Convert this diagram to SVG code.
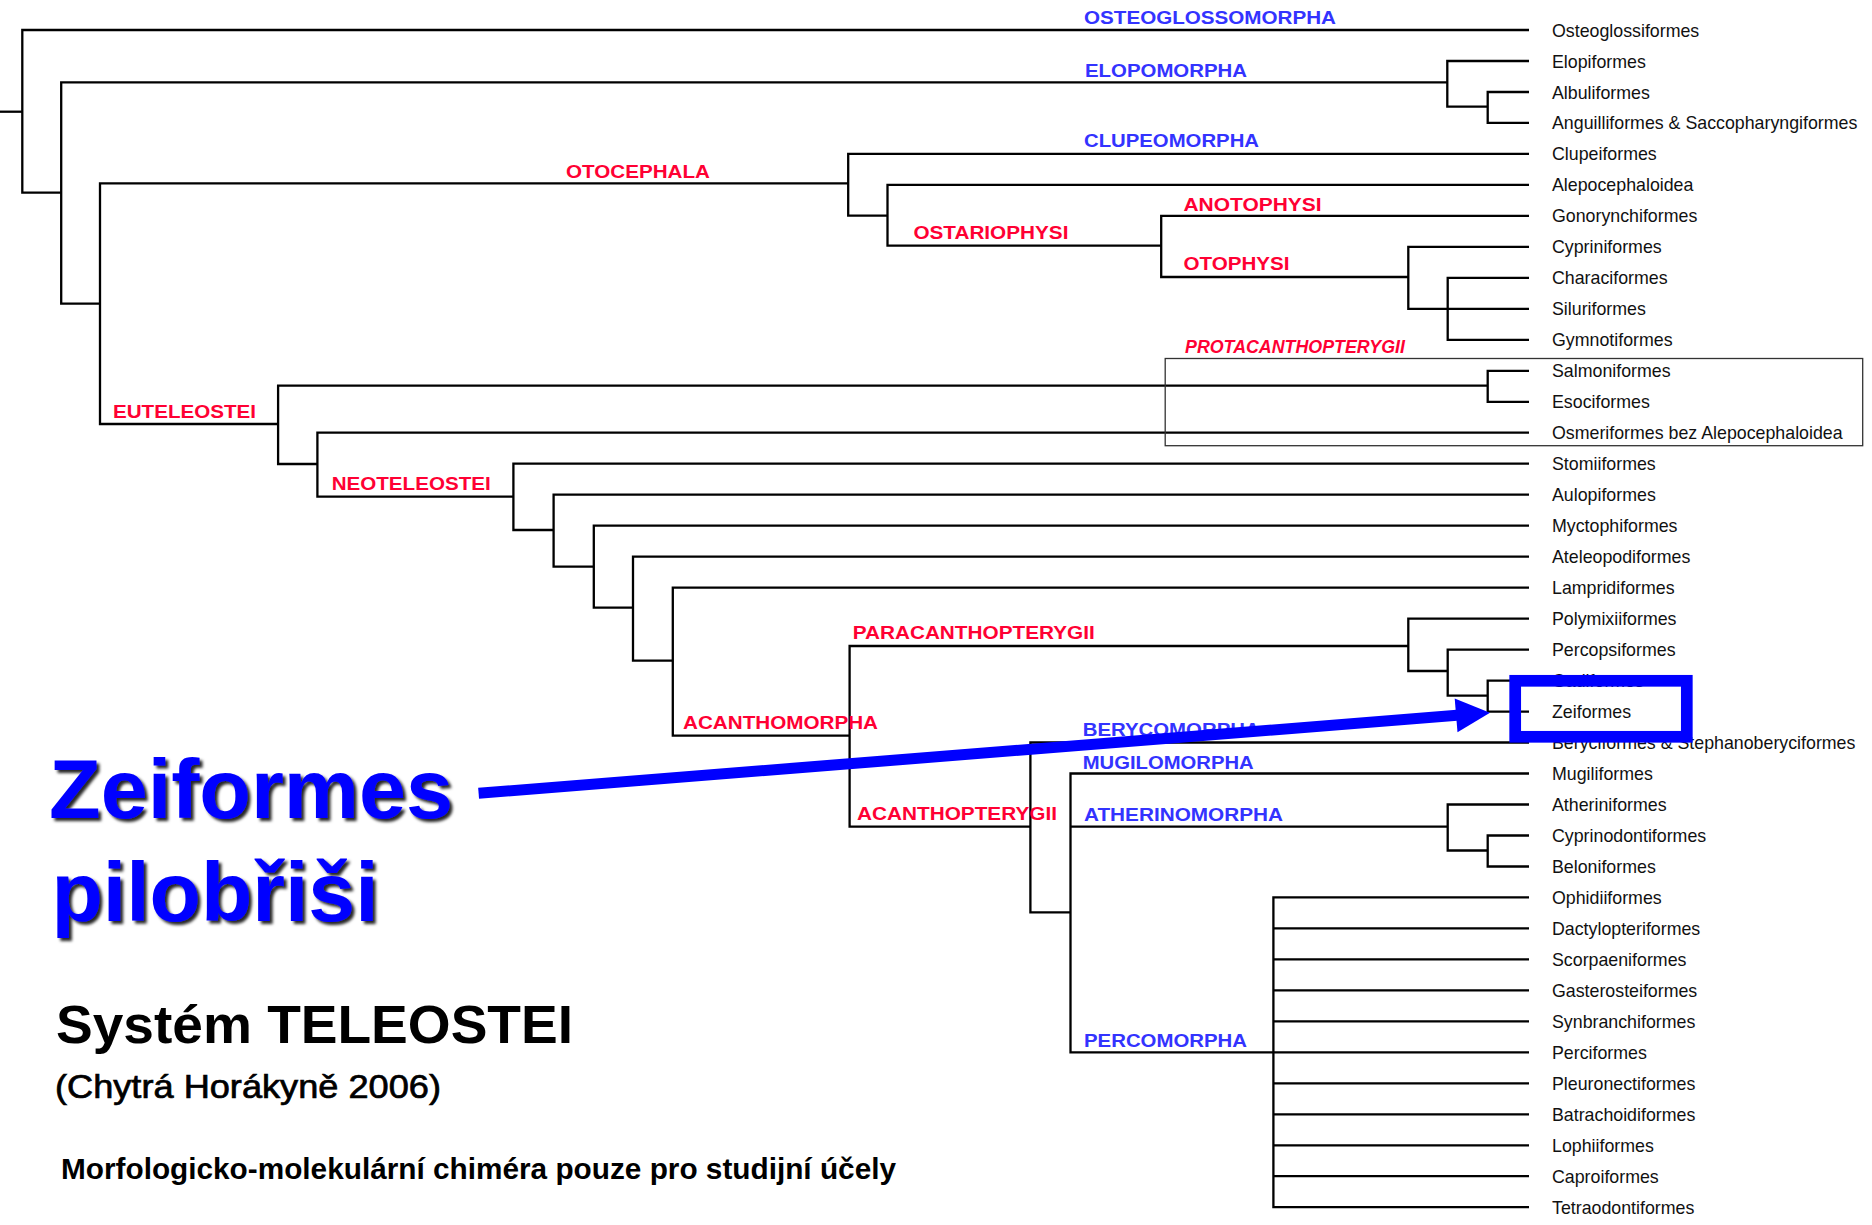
<svg xmlns="http://www.w3.org/2000/svg" width="1872" height="1225" viewBox="0 0 1872 1225">
<defs>
<style>
.ln{fill:none;stroke:#000;stroke-width:2.3;stroke-linejoin:miter;stroke-linecap:butt}
.leaf{font-family:"Liberation Sans",Arial,sans-serif;font-size:17.8px;fill:#111}
.red{font-family:"Liberation Sans",Arial,sans-serif;font-size:19px;font-weight:bold;fill:#ff0033}
.blue{font-family:"Liberation Sans",Arial,sans-serif;font-size:19px;font-weight:bold;fill:#3333ff}
.big{font-family:"Liberation Sans",Arial,sans-serif;font-size:84px;font-weight:bold;fill:#0000ff}
.ttl{font-family:"Liberation Sans",Arial,sans-serif;fill:#000}
</style>
<filter id="sh" x="-5%" y="-10%" width="115%" height="130%">
<feDropShadow dx="3" dy="3" stdDeviation="1.4" flood-color="#000" flood-opacity="0.85"/>
</filter>
</defs>
<rect x="0" y="0" width="1872" height="1225" fill="#fff"/>
<g id="connectors">
<path class="ln" d="M0,111.7 H22.3"/>
<path class="ln" d="M1529,30 H22.3 V192.7 H61.2"/>
<path class="ln" d="M1447.3,82.3 H61.2 V303.7 H100"/>
<path class="ln" d="M1529,61 H1447.3 V106.7 H1487.7"/>
<path class="ln" d="M1529,92 H1487.7 V122.9 H1529"/>
<path class="ln" d="M848.2,183.3 H100 V424 H278.1"/>
<path class="ln" d="M1529,153.9 H848.2 V215.7 H887.5"/>
<path class="ln" d="M1529,184.9 H887.5 V245.7 H1161.2"/>
<path class="ln" d="M1529,215.9 H1161.2 V277 H1408.3"/>
<path class="ln" d="M1529,246.9 H1408.3 V308.8 H1529"/>
<path class="ln" d="M1529,277.8 H1447.7 V339.8 H1529"/>
<path class="ln" d="M1487.7,385.7 H278.1 V464 H317.4"/>
<path class="ln" d="M1529,370.8 H1487.7 V401.8 H1529"/>
<path class="ln" d="M1529,432.7 H317.4 V496.7 H513.4"/>
<path class="ln" d="M1529,463.7 H513.4 V530 H553.6"/>
<path class="ln" d="M1529,494.7 H553.6 V566.7 H593.8"/>
<path class="ln" d="M1529,525.7 H593.8 V607.7 H633"/>
<path class="ln" d="M1529,556.6 H633 V660.7 H672.8"/>
<path class="ln" d="M1529,587.6 H672.8 V735.7 H849.6"/>
<path class="ln" d="M1408.3,646 H849.6 V826.7 H1030.4"/>
<path class="ln" d="M1529,618.6 H1408.3 V671 H1447.7"/>
<path class="ln" d="M1529,649.6 H1447.7 V695.7 H1487.7"/>
<path class="ln" d="M1529,680.6 H1487.7 V711.6 H1529"/>
<path class="ln" d="M1529,742.5 H1030.4 V912.3 H1070.5"/>
<path class="ln" d="M1529,773.5 H1070.5 V1052.3 H1529"/>
<path class="ln" d="M1070.5,826.7 H1447.7"/>
<path class="ln" d="M1529,804.5 H1447.7 V850.5 H1487.7"/>
<path class="ln" d="M1529,835.5 H1487.7 V866.5 H1529"/>
<path class="ln" d="M1529,897.4 H1273.4 V1207.2 H1529"/>
<path class="ln" d="M1273.4,928.4 H1529 M1273.4,959.4 H1529 M1273.4,990.4 H1529 M1273.4,1021.3 H1529 M1273.4,1083.3 H1529 M1273.4,1114.3 H1529 M1273.4,1145.3 H1529 M1273.4,1176.2 H1529"/>
</g>
<g id="protacanthopterygii-box">
<rect x="1165.2" y="358.5" width="697.5" height="87.2" fill="none" stroke="#333" stroke-width="1.3"/>
</g>
<g id="leaves">
<g id="leaf-osteoglossiformes"><text class="leaf" x="1552" y="36.5">Osteoglossiformes</text></g>
<g id="leaf-elopiformes"><text class="leaf" x="1552" y="67.5">Elopiformes</text></g>
<g id="leaf-albuliformes"><text class="leaf" x="1552" y="98.5">Albuliformes</text></g>
<g id="leaf-anguilliformes"><text class="leaf" x="1552" y="129.4">Anguilliformes &amp; Saccopharyngiformes</text></g>
<g id="leaf-clupeiformes"><text class="leaf" x="1552" y="160.4">Clupeiformes</text></g>
<g id="leaf-alepocephaloidea"><text class="leaf" x="1552" y="191.4">Alepocephaloidea</text></g>
<g id="leaf-gonorynchiformes"><text class="leaf" x="1552" y="222.4">Gonorynchiformes</text></g>
<g id="leaf-cypriniformes"><text class="leaf" x="1552" y="253.4">Cypriniformes</text></g>
<g id="leaf-characiformes"><text class="leaf" x="1552" y="284.3">Characiformes</text></g>
<g id="leaf-siluriformes"><text class="leaf" x="1552" y="315.3">Siluriformes</text></g>
<g id="leaf-gymnotiformes"><text class="leaf" x="1552" y="346.3">Gymnotiformes</text></g>
<g id="leaf-salmoniformes"><text class="leaf" x="1552" y="377.3">Salmoniformes</text></g>
<g id="leaf-esociformes"><text class="leaf" x="1552" y="408.3">Esociformes</text></g>
<g id="leaf-osmeriformes"><text class="leaf" x="1552" y="439.2">Osmeriformes bez Alepocephaloidea</text></g>
<g id="leaf-stomiiformes"><text class="leaf" x="1552" y="470.2">Stomiiformes</text></g>
<g id="leaf-aulopiformes"><text class="leaf" x="1552" y="501.2">Aulopiformes</text></g>
<g id="leaf-myctophiformes"><text class="leaf" x="1552" y="532.2">Myctophiformes</text></g>
<g id="leaf-ateleopodiformes"><text class="leaf" x="1552" y="563.1">Ateleopodiformes</text></g>
<g id="leaf-lampridiformes"><text class="leaf" x="1552" y="594.1">Lampridiformes</text></g>
<g id="leaf-polymixiiformes"><text class="leaf" x="1552" y="625.1">Polymixiiformes</text></g>
<g id="leaf-percopsiformes"><text class="leaf" x="1552" y="656.1">Percopsiformes</text></g>
<g id="leaf-gadiformes"><text class="leaf" x="1552" y="687.1">Gadiformes</text></g>
<g id="leaf-zeiformes"><text class="leaf" x="1552" y="718.1">Zeiformes</text></g>
<g id="leaf-beryciformes"><text class="leaf" x="1552" y="749">Beryciformes &amp; Stephanoberyciformes</text></g>
<g id="leaf-mugiliformes"><text class="leaf" x="1552" y="780">Mugiliformes</text></g>
<g id="leaf-atheriniformes"><text class="leaf" x="1552" y="811">Atheriniformes</text></g>
<g id="leaf-cyprinodontiformes"><text class="leaf" x="1552" y="842">Cyprinodontiformes</text></g>
<g id="leaf-beloniformes"><text class="leaf" x="1552" y="873">Beloniformes</text></g>
<g id="leaf-ophidiiformes"><text class="leaf" x="1552" y="903.9">Ophidiiformes</text></g>
<g id="leaf-dactylopteriformes"><text class="leaf" x="1552" y="934.9">Dactylopteriformes</text></g>
<g id="leaf-scorpaeniformes"><text class="leaf" x="1552" y="965.9">Scorpaeniformes</text></g>
<g id="leaf-gasterosteiformes"><text class="leaf" x="1552" y="996.9">Gasterosteiformes</text></g>
<g id="leaf-synbranchiformes"><text class="leaf" x="1552" y="1027.8">Synbranchiformes</text></g>
<g id="leaf-perciformes"><text class="leaf" x="1552" y="1058.8">Perciformes</text></g>
<g id="leaf-pleuronectiformes"><text class="leaf" x="1552" y="1089.8">Pleuronectiformes</text></g>
<g id="leaf-batrachoidiformes"><text class="leaf" x="1552" y="1120.8">Batrachoidiformes</text></g>
<g id="leaf-lophiiformes"><text class="leaf" x="1552" y="1151.8">Lophiiformes</text></g>
<g id="leaf-caproiformes"><text class="leaf" x="1552" y="1182.7">Caproiformes</text></g>
<g id="leaf-tetraodontiformes"><text class="leaf" x="1552" y="1213.7">Tetraodontiformes</text></g>
</g>
<g id="clades">
<g id="clade-osteoglossomorpha"><text class="blue" x="1084" y="24" textLength="252" lengthAdjust="spacingAndGlyphs">OSTEOGLOSSOMORPHA</text></g>
<g id="clade-elopomorpha"><text class="blue" x="1085" y="76.7" textLength="162" lengthAdjust="spacingAndGlyphs">ELOPOMORPHA</text></g>
<g id="clade-clupeomorpha"><text class="blue" x="1084" y="146.7" textLength="175" lengthAdjust="spacingAndGlyphs">CLUPEOMORPHA</text></g>
<g id="clade-otocephala"><text class="red" x="566" y="178.3" textLength="144" lengthAdjust="spacingAndGlyphs">OTOCEPHALA</text></g>
<g id="clade-anotophysi"><text class="red" x="1183.5" y="210.7" textLength="138" lengthAdjust="spacingAndGlyphs">ANOTOPHYSI</text></g>
<g id="clade-ostariophysi"><text class="red" x="913.4" y="239.3" textLength="155" lengthAdjust="spacingAndGlyphs">OSTARIOPHYSI</text></g>
<g id="clade-otophysi"><text class="red" x="1183.5" y="270" textLength="106" lengthAdjust="spacingAndGlyphs">OTOPHYSI</text></g>
<g id="clade-protacanthopterygii"><text class="red" x="1185" y="353.3" font-weight="normal" font-style="italic" font-size="17.8" textLength="220" lengthAdjust="spacingAndGlyphs">PROTACANTHOPTERYGII</text></g>
<g id="clade-euteleostei"><text class="red" x="113" y="418.3" textLength="143" lengthAdjust="spacingAndGlyphs">EUTELEOSTEI</text></g>
<g id="clade-neoteleostei"><text class="red" x="331.7" y="490" textLength="159" lengthAdjust="spacingAndGlyphs">NEOTELEOSTEI</text></g>
<g id="clade-paracanthopterygii"><text class="red" x="852.7" y="639.3" textLength="242" lengthAdjust="spacingAndGlyphs">PARACANTHOPTERYGII</text></g>
<g id="clade-acanthomorpha"><text class="red" x="683" y="729.3" textLength="195" lengthAdjust="spacingAndGlyphs">ACANTHOMORPHA</text></g>
<g id="clade-berycomorpha"><text class="blue" x="1082.7" y="736" textLength="177" lengthAdjust="spacingAndGlyphs">BERYCOMORPHA</text></g>
<g id="clade-mugilomorpha"><text class="blue" x="1082.7" y="769.3" textLength="171" lengthAdjust="spacingAndGlyphs">MUGILOMORPHA</text></g>
<g id="clade-acanthopterygii"><text class="red" x="857" y="820" textLength="200" lengthAdjust="spacingAndGlyphs">ACANTHOPTERYGII</text></g>
<g id="clade-atherinomorpha"><text class="blue" x="1084" y="821" textLength="199" lengthAdjust="spacingAndGlyphs">ATHERINOMORPHA</text></g>
<g id="clade-percomorpha"><text class="blue" x="1084" y="1047.3" textLength="163" lengthAdjust="spacingAndGlyphs">PERCOMORPHA</text></g>
</g>
<g id="zeiformes-highlight">
<rect x="1515.2" y="680.8" width="171.6" height="56" fill="none" stroke="#0000ff" stroke-width="11.7"/>
</g>
<g id="zeiformes-arrow">
<line x1="478.6" y1="793.3" x2="1457" y2="715.3" stroke="#0000ff" stroke-width="11"/>
<polygon points="1490,712.7 1454.7,698.5 1457.5,732.3" fill="#0000ff"/>
</g>
<g id="zeiformes-caption" filter="url(#sh)">
<text class="big" x="49" y="818" textLength="404" lengthAdjust="spacingAndGlyphs">Zeiformes</text>
<text class="big" x="51.5" y="921" textLength="327" lengthAdjust="spacingAndGlyphs">pilobřiši</text>
</g>
<g id="title">
<text class="ttl" x="56" y="1043" font-size="53" font-weight="bold" textLength="517" lengthAdjust="spacingAndGlyphs">Systém TELEOSTEI</text>
<text class="ttl" x="55" y="1098" font-size="33" stroke="#000" stroke-width="0.7" textLength="386" lengthAdjust="spacingAndGlyphs">(Chytrá Horákyně 2006)</text>
<text class="ttl" x="61" y="1178.5" font-size="29" font-weight="bold" textLength="835" lengthAdjust="spacingAndGlyphs">Morfologicko-molekulární chiméra pouze pro studijní účely</text>
</g>
</svg>
